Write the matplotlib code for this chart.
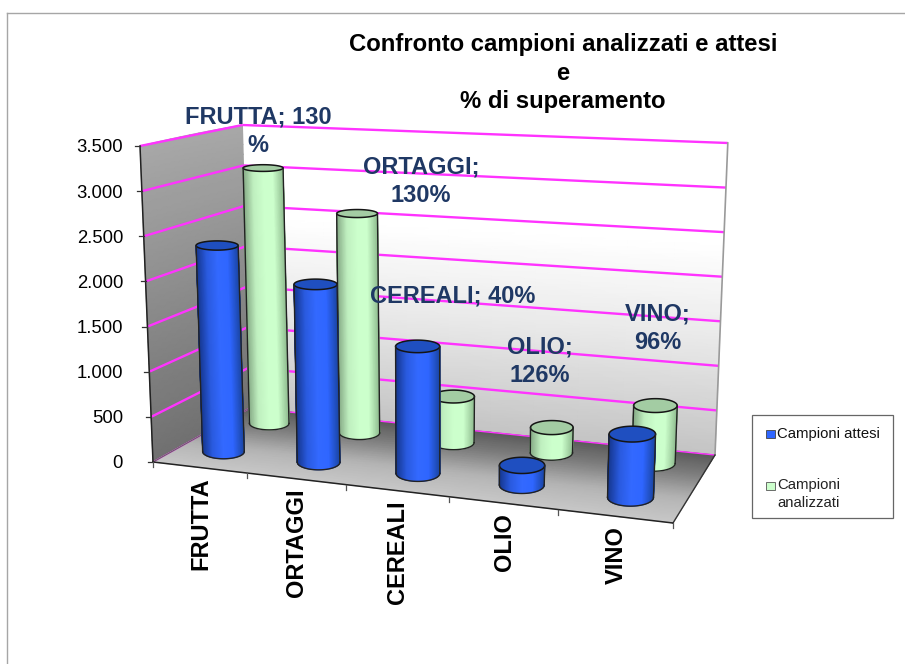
import numpy as np
import matplotlib
matplotlib.use("Agg")
import matplotlib.pyplot as plt
from matplotlib.colors import LinearSegmentedColormap
from matplotlib.patches import Rectangle

categories = ["FRUTTA", "ORTAGGI", "CEREALI", "OLIO", "VINO"]
attesi = [2325, 1970, 1380, 210, 660]
analizzati = [3050, 2570, 530, 285, 640]
y_ticks = [0, 500, 1000, 1500, 2000, 2500, 3000, 3500]
y_labels = ["0", "500", "1.000", "1.500", "2.000", "2.500", "3.000", "3.500"]
series_names = ["Campioni attesi", "Campioni\nanalizzati"]
title_text = "Confronto campioni analizzati e attesi\ne\n% di superamento"
data_labels = ["FRUTTA; 130\n%", "ORTAGGI;\n130%", "CEREALI; 40%", "OLIO;\n126%", "VINO;\n96%"]

plt.rcParams["font.family"] = ["Liberation Sans", "DejaVu Sans"]
fig = plt.figure(figsize=(9.05, 6.64), dpi=100)
ax = fig.add_axes([0, 0, 1, 1])
ax.set_xlim(0, 905)
ax.set_ylim(664, 0)
ax.axis("off")

YMAX = 3500.0
VP = (434.0, 7300.0)
FL, FR, BL, BR = (153, 462), (673, 523), (250, 408), (715, 455)
H_FL, H_FR, H_BL, H_BR = 316.0, 348.0, 283.0, 312.0


def homography(p00, p10, p01, p11):
    p00, p10, p01, p11 = map(lambda p: np.array(p, float), (p00, p10, p01, p11))
    d1 = p10 - p11
    d2 = p01 - p11
    s = p00 - p10 + p11 - p01
    det = d1[0] * d2[1] - d1[1] * d2[0]
    g = (s[0] * d2[1] - s[1] * d2[0]) / det
    h = (d1[0] * s[1] - d1[1] * s[0]) / det
    a = p10 * (1 + g) - p00
    b = p01 * (1 + h) - p00

    def f(u, w):
        u = np.asarray(u, float)
        w = np.asarray(w, float)
        den = 1 + g * u + h * w
        return ((a[0] * u + b[0] * w + p00[0]) / den,
                (a[1] * u + b[1] * w + p00[1]) / den)
    return f


floor = homography(FL, FR, BL, BR)


def P(u, w, v):
    u = np.asarray(u, float)
    w = np.asarray(w, float)
    t = np.asarray(v, float) / YMAX
    xf, yf = floor(u, w)
    xl, _ = floor(np.zeros_like(u), w)
    xr, _ = floor(np.ones_like(u), w)
    frac = (xf - xl) / (xr - xl)
    hl = H_FL + (H_BL - H_FL) * w
    hr = H_FR + (H_BR - H_FR) * w
    H = hl + (hr - hl) * frac
    lean = (xf - VP[0]) / (VP[1] - yf)
    return xf + lean * H * t, yf - H * t


def gradient_face(xs, ys, colors, zorder):
    cmap = LinearSegmentedColormap.from_list("g", colors)
    ax.pcolormesh(xs, ys, np.linspace(0, 1, xs.shape[0])[:, None] * np.ones_like(xs),
                  cmap=cmap, shading="gouraud", zorder=zorder, vmin=0, vmax=1)


# outer frame
ax.plot([7, 7], [664, 13], color="#a6a6a6", lw=1, zorder=1)
ax.plot([7, 905], [13, 13], color="#a6a6a6", lw=1, zorder=1)

# back wall, side wall and floor
vv = np.linspace(0, YMAX, 30)
uu = np.linspace(0, 1, 12)
U, V = np.meshgrid(uu, vv)
X, Y = P(U, np.ones_like(U), V)
gradient_face(X, Y, ["#c4c4c4", "#e6e6e6", "#ffffff", "#ffffff"], 2)
ww = np.linspace(0, 1, 12)
W, V = np.meshgrid(ww, vv)
X, Y = P(np.zeros_like(W), W, V)
gradient_face(X, Y, ["#707070", "#8c8c8c", "#a8a8a8"], 2)
ww2 = np.linspace(0, 1, 30)
U, W = np.meshgrid(uu, ww2)
X, Y = P(U, W, np.zeros_like(U))
gradient_face(X, Y, ["#c8c8c8", "#b4b4b4", "#808080", "#5a5a5a"], 3)

# gridlines
for v in y_ticks:
    x, y = P(np.array([0.0, 1.0]), np.ones(2), np.full(2, v))
    ax.plot(x, y, color="#ff33ff", lw=1.7 if v else 1, zorder=4, solid_capstyle="butt")
    x, y = P(np.zeros(2), np.array([0.0, 1.0]), np.full(2, v))
    ax.plot(x, y, color="#ff33ff", lw=1.7 if v else 1, zorder=4, solid_capstyle="butt")

# wall edges and axes
x, y = P(np.ones(2), np.ones(2), np.array([0, YMAX]))
ax.plot(x, y, color="#9a9a9a", lw=1.2, zorder=4)
x, y = P(np.ones(2), np.array([0.0, 1.0]), np.zeros(2))
ax.plot(x, y, color="#333333", lw=1, zorder=5)
x, y = P(np.zeros(2), np.array([0.0, 1.0]), np.zeros(2))
ax.plot(x, y, color="#666666", lw=0.8, zorder=5)
x, y = P(np.zeros(2), np.zeros(2), np.array([0, YMAX]))
ax.plot(x, y, color="#222222", lw=1.1, zorder=5)
x, y = P(np.array([0.0, 1.0]), np.zeros(2), np.zeros(2))
ax.plot(x, y, color="#222222", lw=1.1, zorder=5)

for v, lab in zip(y_ticks, y_labels):
    x, y = P(0.0, 0.0, v)
    ax.plot([x - 5, x], [y, y], color="#333333", lw=0.9, zorder=5)
    ax.text(123, y + 2, lab, ha="right", va="center", fontsize=13.3, color="black", zorder=9)

n = len(categories)
for i in range(n + 1):
    x, y = P(i / n, 0.0, 0.0)
    ax.plot([x, x], [y, y + 5], color="#555555", lw=0.9, zorder=5)

for i, lab in enumerate(categories):
    x, y = P((i + 0.5) / n, 0.0, 0.0)
    ax.text(x + 1, y + 10, lab, rotation=90, ha="center", va="top", fontsize=17,
            fontweight="bold", color="black", zorder=9)


def cylinder(u, w, value, stops, top_color, zorder):
    ru, rw = 0.046 * (1 - 0.11 * u), 0.125
    cmap = LinearSegmentedColormap.from_list("c", stops)
    xb, yb = P(u, w, 0.0)
    xt, yt = P(u, w, value)
    xl, _ = P(u - ru, w, 0.0)
    xr, _ = P(u + ru, w, 0.0)
    _, yf = P(u, w - rw, 0.0)
    _, yk = P(u, w + rw, 0.0)
    ab = abs(xr - xl) / 2
    bb = abs(yf - yk) / 2
    at = ab * 1.01
    bt = bb * (1 - 0.55 * value / YMAX)
    th = np.linspace(np.pi, 0, 61)
    mx = np.vstack([xb + ab * np.cos(th), xt + at * np.cos(th)])
    my = np.vstack([yb + bb * np.sin(th), yt + bt * np.sin(th)])
    shade = (1 - np.cos(th)) / 2
    ax.pcolormesh(mx, my, np.vstack([shade, shade]), cmap=cmap, shading="gouraud",
                  vmin=0, vmax=1, zorder=zorder)
    tc = np.linspace(0, 2 * np.pi, 90)
    ax.fill(xt + at * np.cos(tc), yt + bt * np.sin(tc), facecolor=top_color, edgecolor="#151515",
            lw=1.1, zorder=zorder + 0.01)
    ax.plot(xb + ab * np.cos(th), yb + bb * np.sin(th), color="#222222", lw=1.0, zorder=zorder + 0.01)
    for sgn in (-1, 1):
        ax.plot([xb + sgn * ab, xt + sgn * at], [yb, yt], color="#222222", lw=1.0, zorder=zorder + 0.01)


BLUE = ["#1b47a8", "#2f66ff", "#3369ff", "#2a5be0", "#15368c"]
GREEN = ["#93c093", "#ccffcc", "#ccffcc", "#c0f0c0", "#84a884"]
W_BLUE, W_GREEN = 0.26, 0.77


def centre(i):
    c = (i + 0.5) / n
    return c - 0.01 * (1 - c) ** 2


for i in range(n):
    cylinder(centre(i), W_GREEN, analizzati[i], GREEN, "#a3cca3", 6 + i * 0.1)
for i in range(n):
    cylinder(centre(i) + 0.003, W_BLUE, attesi[i], BLUE, "#1f4fc0", 7 + i * 0.1)

# data labels
NAVY = "#1f3864"
label_pos = [(258, 131), (421, 181), (453, 296), (540, 361), (658, 328)]
for text, (lx, ly) in zip(data_labels, label_pos):
    ax.text(lx, ly, text, ha="center", va="center", multialignment="center",
            fontsize=17, fontweight="bold", color=NAVY, linespacing=1.29, zorder=10)

# title
ax.text(563, 73, title_text, ha="center", va="center", multialignment="center",
        fontsize=17.2, fontweight="bold", color="black", linespacing=1.28, zorder=10)

# legend
ax.add_patch(Rectangle((752, 415), 141, 103, facecolor="white", edgecolor="#666666", lw=0.9, zorder=9))
ax.add_patch(Rectangle((766, 430), 9, 8, facecolor="#2f66ff", edgecolor="#444444", lw=0.6, zorder=10))
ax.add_patch(Rectangle((766, 482), 9, 8, facecolor="#ccffcc", edgecolor="#555555", lw=0.6, zorder=10))
ax.text(777, 434, series_names[0], ha="left", va="center", fontsize=10.7, color="#111111", zorder=10)
ax.text(777, 494, series_names[1], ha="left", va="center", fontsize=10.7, color="#222222",
        linespacing=1.35, zorder=10)

fig.savefig("out.png", dpi=100)
